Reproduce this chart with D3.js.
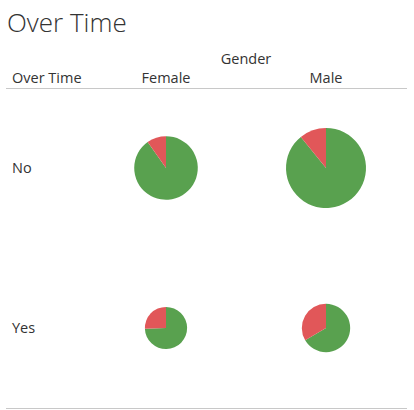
<!DOCTYPE html>
<html><head><meta charset="utf-8">
<script src="https://cdn.jsdelivr.net/npm/d3@7"></script>
<style>body{margin:0;background:#fff;}</style>
</head><body>
<script>
const genders = ["Female", "Male"];
const overTime = ["No", "Yes"];
// counts: [overTime][gender] -> {attrNo, attrYes}
const attritionNo = [[368, 576], [134, 157]];
const attritionYes = [[40, 70], [46, 79]];
const colors = {No: "#59a14f", Yes: "#e15759"};

const W = 414, H = 410;
const svg = d3.select("body").append("svg").attr("width", W).attr("height", H)
  .style("font-family", "'Open Sans', 'Noto Sans', sans-serif");

svg.append("text").attr("x", 7).attr("y", 32).text("Over Time")
  .attr("font-size", 26).attr("font-weight", 300).attr("fill", "#333");

const x = d3.scalePoint().domain(genders).range([166, 326]);
const y = d3.scalePoint().domain(overTime).range([168, 328]);
const maxTotal = d3.max(attritionNo.flat().map((v, i) => v + attritionYes.flat()[i]));
const r = d3.scaleSqrt().domain([0, maxTotal]).range([0, 40]);

svg.append("text").attr("x", 246).attr("y", 64).attr("text-anchor", "middle")
  .text("Gender").attr("font-size", 14.5).attr("fill", "#333");
svg.append("text").attr("x", 12).attr("y", 83).text("Over Time")
  .attr("font-size", 14.5).attr("fill", "#333");
genders.forEach(g => svg.append("text").attr("x", x(g)).attr("y", 83)
  .attr("text-anchor", "middle").text(g).attr("font-size", 14.5).attr("fill", "#333"));

svg.append("line").attr("x1", 6).attr("x2", 407).attr("y1", 88.5).attr("y2", 88.5)
  .attr("stroke", "#c8c8c8");
svg.append("line").attr("x1", 6).attr("x2", 407).attr("y1", 408.5).attr("y2", 408.5)
  .attr("stroke", "#c8c8c8");

overTime.forEach(o => svg.append("text").attr("x", 12).attr("y", y(o)).attr("dy", "0.35em")
  .text(o).attr("font-size", 14.5).attr("fill", "#333"));

const pie = d3.pie().sort(null).value(d => d.v);
overTime.forEach((o, i) => {
  genders.forEach((g, j) => {
    const data = [{k: "No", v: attritionNo[i][j]}, {k: "Yes", v: attritionYes[i][j]}];
    const rad = r(attritionNo[i][j] + attritionYes[i][j]);
    const arc = d3.arc().innerRadius(0).outerRadius(rad);
    svg.append("g").attr("transform", `translate(${x(g)},${y(o)})`)
      .selectAll("path").data(pie(data)).join("path")
      .attr("d", arc).attr("fill", d => colors[d.data.k]);
  });
});
</script>
</body></html>
